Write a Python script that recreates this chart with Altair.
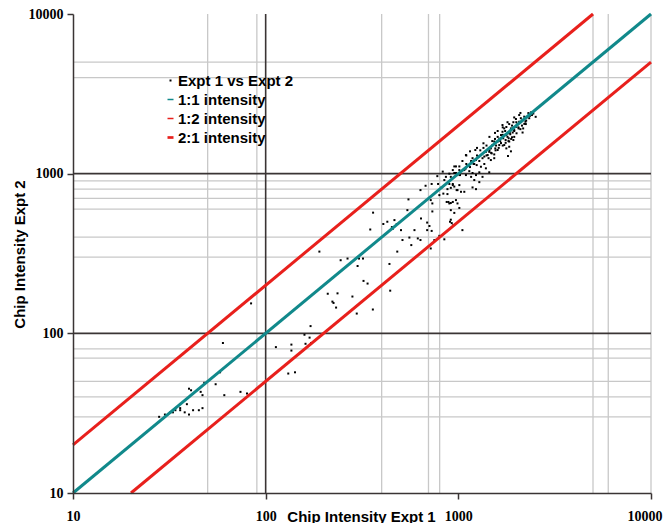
import altair as alt
import pandas as pd

# ---------------- data ----------------
x_ticks = [10, 100, 1000, 10000]
y_ticks = [10, 100, 1000, 10000]
x_grid_light = [50, 90, 400, 700, 800, 5000, 6000, 10000]
y_grid_light = [30, 40, 50, 70, 80, 300, 400, 600, 700, 800, 900, 4000, 5000]
x_grid_dark = [100]
y_grid_dark = [100, 1000]

series_names = ["Expt 1 vs Expt 2", "1:1 intensity", "1:2 intensity", "2:1 intensity"]

# reference lines (end points)
line_11_x = [10, 10000]
line_11_y = [10, 10000]
line_12_x = [10, 5000]
line_12_y = [20, 10000]
line_21_x = [20, 10000]
line_21_y = [10, 5000]

# scatter: Expt 1 (x) vs Expt 2 (y)
low_pts = [(28, 30), (30, 31), (32, 32), (33, 32), (34, 33), (36, 33), (36, 34), (38, 32),
           (39, 36), (40, 45), (41, 44), (40, 31), (42, 33), (45, 33), (47, 34), (46, 43),
           (47, 41), (48, 49), (55, 48), (58, 57), (60, 87), (61, 41), (74, 43), (80, 42),
           (84, 154)]
mid_pts = [(113, 82), (136, 85), (136, 78), (131, 56), (142, 57), (159, 98), (169, 94),
           (172, 87), (161, 86), (171, 111), (210, 177), (236, 178), (222, 158), (225, 155),
           (232, 145), (190, 325), (245, 287), (266, 294), (305, 294), (320, 294), (300, 264),
           (322, 213), (338, 205), (282, 170), (297, 133), (360, 141), (349, 447), (443, 185),
           (439, 272)]
upper_mid_pts = [(361, 570), (408, 484), (428, 500), (466, 512), (479, 484), (504, 443),
                 (551, 690), (544, 591), (636, 789), (640, 524), (592, 443), (513, 384),
                 (557, 398), (616, 393), (636, 384), (570, 357), (689, 443), (727, 438),
                 (751, 384), (719, 340), (482, 325), (727, 862), (719, 683), (733, 651),
                 (733, 580), (778, 965), (785, 862), (818, 820), (846, 912), (862, 955),
                 (836, 750), (878, 745), (888, 665), (914, 655), (914, 515), (924, 490),
                 (797, 408), (846, 388), (953, 830), (980, 789), (936, 862), (972, 683),
                 (990, 651), (953, 1010), (990, 980), (689, 494), (708, 470), (452, 463),
                 (457, 452), (676, 840), (898, 1000), (830, 1030), (972, 1110), (1012, 1053),
                 (1090, 1075), (797, 734), (914, 591), (953, 568), (1012, 610), (870, 665),
                 (898, 651), (936, 665), (878, 800), (914, 815), (1032, 770), (905, 500),
                 (942, 476), (1050, 443)]
dense_pts = [(2310, 2395), (2260, 2250), (2198, 2275), (2155, 2167), (2230, 2115), (2110, 2225),
             (2070, 2115), (2030, 2045), (2140, 2000), (2170, 1920), (2055, 1920), (1990, 1960),
             (1950, 1876), (2005, 1790), (1915, 1810), (1875, 1920), (1860, 1765), (1810, 1790),
             (1775, 1745), (1825, 1665), (1900, 1690), (1930, 1624), (1837, 1590), (1760, 1624),
             (1710, 1665), (1665, 1745), (1695, 1830), (1731, 1920), (1631, 1655), (1600, 1590),
             (1665, 1555), (1731, 1511), (1775, 1440), (1837, 1475), (1875, 1380), (1810, 1290),
             (1631, 1511), (1570, 1500), (1536, 1590), (1505, 1511), (1555, 1440), (1600, 1406),
             (1475, 1440), (1447, 1370), (1490, 1340), (1536, 1320), (1420, 1308), (1390, 1370),
             (1364, 1280), (1435, 1250), (1475, 1217), (1536, 1250), (1335, 1250), (1310, 1308),
             (1275, 1280), (1285, 1200), (1235, 1217), (1210, 1150), (1185, 1250), (1165, 1200),
             (1245, 1132), (1310, 1105), (1364, 1150), (1390, 1080), (1225, 1406), (1095, 1308),
             (1050, 1200), (1115, 1120), (1012, 1110), (1074, 1053), (1140, 1037), (1185, 1010),
             (1235, 980), (1285, 1020), (953, 1110), (936, 1053), (972, 1010), (914, 955),
             (1020, 980), (1095, 980), (1165, 955), (1210, 912), (1285, 885), (1335, 955),
             (1447, 1020), (1185, 820), (1235, 800), (1012, 848), (936, 848), (898, 862),
             (990, 789), (1074, 770), (2155, 1810), (2240, 2045), (2333, 2225), (2410, 2329),
             (2070, 2329), (1990, 2200), (1930, 2100), (1837, 2045), (1775, 1960), (1695, 2016),
             (1300, 1400), (1350, 1450), (1400, 1500), (1450, 1400), (1500, 1600), (1550, 1650),
             (1600, 1700), (1650, 1600), (1700, 1750), (1750, 1850), (1800, 1700), (1850, 1800),
             (1900, 2000), (1950, 1850), (2000, 2100), (2050, 1950), (1250, 1300), (1200, 1150),
             (1150, 1100), (1100, 1150), (1400, 1300), (1480, 1350), (1560, 1400), (1620, 1450),
             (1700, 1500), (1760, 1560), (1820, 1600), (1880, 1650), (1950, 1700), (2100, 1900),
             (2200, 2050), (2250, 2150), (2350, 2300), (1250, 1450), (1350, 1550), (1450, 1700),
             (1600, 1850), (1800, 2100), (1950, 2250), (2100, 2400), (1100, 1300), (1150, 1380),
             (1700, 1950), (1550, 1800), (2520, 2270), (2450, 2380), (2380, 2420)]

all_pts = low_pts + mid_pts + upper_mid_pts + dense_pts
expt1 = [p[0] for p in all_pts]
expt2 = [p[1] for p in all_pts]

# ---------------- styling ----------------
TEAL = "#11898b"
RED = "#e8201c"
DARK = "#3a3434"
LIGHT = "#c8c8c8"

xs = alt.Scale(type="log", domain=[10, 10000], nice=False)
ys = alt.Scale(type="log", domain=[10, 10000], nice=False)

pts_df = pd.DataFrame({"expt1": expt1, "expt2": expt2, "series": series_names[0]})

legend_common = dict(title=None, orient="none", legendX=90, legendY=59, padding=0,
                     labelFont="Liberation Sans", labelFontSize=15, labelFontWeight="bold",
                     labelColor="black", symbolSize=100, labelOffset=0, rowPadding=3,
                     symbolStrokeWidth=0)

dot_path = "M-0.2,-0.2H0.2V0.2H-0.2Z"
thin_dash = "M-0.6,-0.15H0.6V0.15H-0.6Z"
thick_dash = "M-0.6,-0.27H0.6V0.27H-0.6Z"

x_axis = alt.Axis(values=x_ticks, format="d", grid=False, domainColor=DARK, domainWidth=1.5,
                  tickColor=DARK, tickWidth=1.5, tickSize=6, labelFont="Liberation Serif",
                  labelFontSize=14, labelFontWeight="bold", labelColor="black", labelPadding=10,
                  labelAlign={"condition": {"test": "datum.value >= 10000", "value": "right"},
                              "value": "center"},
                  labelOffset={"condition": {"test": "datum.value >= 10000", "value": 11},
                               "value": 0},
                  labelOverlap=False, labelFlush=False, labelBound=False, zindex=1,
                  title="Chip Intensity Expt 1", titleFont="Liberation Sans", titleFontSize=15,
                  titleFontWeight="bold", titleColor="black", titleX=288, titleY=23,
                  titleAlign="center", titleBaseline="middle", titleAnchor="start")
y_axis = alt.Axis(values=y_ticks, format="d", grid=False, domainColor=DARK, domainWidth=1.5,
                  tickColor=DARK, tickWidth=1.5, tickSize=6, labelFont="Liberation Serif",
                  labelFontSize=14, labelFontWeight="bold", labelColor="black", labelPadding=4,
                  labelOverlap=False, labelFlush=False, zindex=1,
                  title="Chip Intensity Expt 2", titleFont="Liberation Sans", titleFontSize=15,
                  titleFontWeight="bold", titleColor="black", titleX=-54, titleY=240,
                  titleAngle=270, titleAlign="center", titleBaseline="middle", titleAnchor="start")

vgrid_light = alt.Chart(pd.DataFrame({"v": x_grid_light})).mark_rule(
    color=LIGHT, strokeWidth=1.3).encode(x=alt.X("v:Q", scale=xs, axis=x_axis))
hgrid_light = alt.Chart(pd.DataFrame({"v": y_grid_light})).mark_rule(
    color=LIGHT, strokeWidth=1.3).encode(y=alt.Y("v:Q", scale=ys, axis=y_axis))
vgrid_dark = alt.Chart(pd.DataFrame({"v": x_grid_dark})).mark_rule(
    color=DARK, strokeWidth=1.6).encode(x=alt.X("v:Q", scale=xs, axis=x_axis))
hgrid_dark = alt.Chart(pd.DataFrame({"v": y_grid_dark})).mark_rule(
    color=DARK, strokeWidth=1.6).encode(y=alt.Y("v:Q", scale=ys, axis=y_axis))

points = alt.Chart(pts_df).mark_point(filled=True, size=100, opacity=1, strokeWidth=0).encode(
    x=alt.X("expt1:Q", scale=xs, axis=x_axis),
    y=alt.Y("expt2:Q", scale=ys, axis=y_axis),
    color=alt.Color("series:N",
                    scale=alt.Scale(domain=series_names, range=["black", TEAL, RED, RED]),
                    legend=alt.Legend(**legend_common)),
    shape=alt.Shape("series:N",
                    scale=alt.Scale(domain=series_names,
                                    range=[dot_path, thin_dash, thin_dash, thick_dash]),
                    legend=alt.Legend(**legend_common)),
)

def ref_line(xv, yv, color):
    df = pd.DataFrame({"x": xv, "y": yv})
    return alt.Chart(df).mark_line(color=color, strokeWidth=3).encode(
        x=alt.X("x:Q", scale=xs, axis=x_axis), y=alt.Y("y:Q", scale=ys, axis=y_axis))

chart = alt.layer(
    vgrid_light, hgrid_light, vgrid_dark, hgrid_dark,
    points,
    ref_line(line_12_x, line_12_y, RED),
    ref_line(line_21_x, line_21_y, RED),
    ref_line(line_11_x, line_11_y, TEAL),
).properties(
    width=578, height=479,
    autosize=alt.AutoSizeParams(type="none"),
    padding={"left": 65, "top": 6, "right": 12, "bottom": 30},
    background="white",
).configure_view(strokeWidth=0)

chart.save("out.html", embed_options={"renderer": "svg", "actions": False})
